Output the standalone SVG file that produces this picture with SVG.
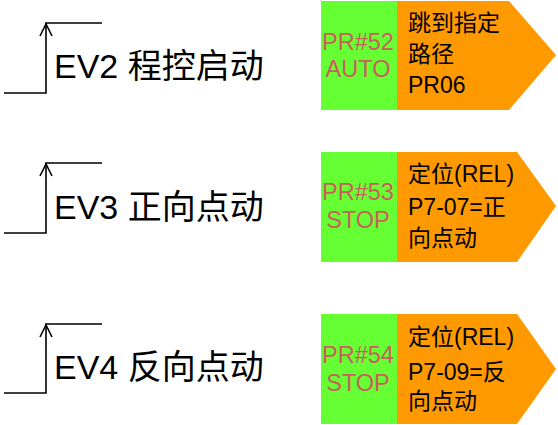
<svg xmlns="http://www.w3.org/2000/svg" width="558" height="425" viewBox="0 0 558 425">
<style>
.sig{fill:none;stroke:#000;stroke-width:1.6}
.lbl{font-family:"Liberation Sans","Noto Sans CJK SC",sans-serif;font-size:34px;fill:#000}
.grn{fill:#66ff33}
.org{fill:#ff9900}
.pr{font-family:"Liberation Sans","Noto Sans CJK SC",sans-serif;font-size:23.5px;fill:#c8605a;text-anchor:middle}
.ot{font-family:"Liberation Sans","Noto Sans CJK SC",sans-serif;font-size:23px;fill:#000}
</style>
<rect width="558" height="425" fill="#fff"/>
<g id="connectors">
<path class="sig" d="M4 93 H46 V23 H102"/>
<path class="sig" d="M40 36 L46 24 L52 36"/>
<path class="sig" d="M4 233 H46 V163 H102"/>
<path class="sig" d="M40 176 L46 164 L52 176"/>
<path class="sig" d="M4 393 H46 V324 H102"/>
<path class="sig" d="M40 337 L46 325 L52 337"/>
</g>
<g id="ev2"><text class="lbl" x="54" y="78">EV2 程控启动</text></g>
<g id="ev3"><text class="lbl" x="54" y="219">EV3 正向点动</text></g>
<g id="ev4"><text class="lbl" x="54" y="379">EV4 反向点动</text></g>
<g id="pr52">
<rect class="grn" x="321" y="1" width="76" height="109"/>
<path class="org" d="M397 1 H509 L556 55 L509 110 H397 Z"/>
<text class="pr" x="358" y="50">PR#52</text>
<text class="pr" x="358" y="77">AUTO</text>
<text class="ot" x="408" y="31">跳到指定</text>
<text class="ot" x="408" y="62">路径</text>
<text class="ot" x="408" y="93">PR06</text>
</g>
<g id="pr53">
<rect class="grn" x="321" y="152" width="76" height="110"/>
<path class="org" d="M397 152 H517 L556 206 L517 262 H397 Z"/>
<text class="pr" x="358" y="200">PR#53</text>
<text class="pr" x="358" y="228">STOP</text>
<text class="ot" x="408" y="182">定位(REL)</text>
<text class="ot" x="408" y="215">P7-07=正</text>
<text class="ot" x="408" y="246">向点动</text>
</g>
<g id="pr54">
<rect class="grn" x="321" y="314" width="76" height="110"/>
<path class="org" d="M397 314 H517 L556 369 L517 424 H397 Z"/>
<text class="pr" x="358" y="363">PR#54</text>
<text class="pr" x="358" y="391">STOP</text>
<text class="ot" x="408" y="345">定位(REL)</text>
<text class="ot" x="408" y="380">P7-09=反</text>
<text class="ot" x="408" y="409">向点动</text>
</g>
</svg>
